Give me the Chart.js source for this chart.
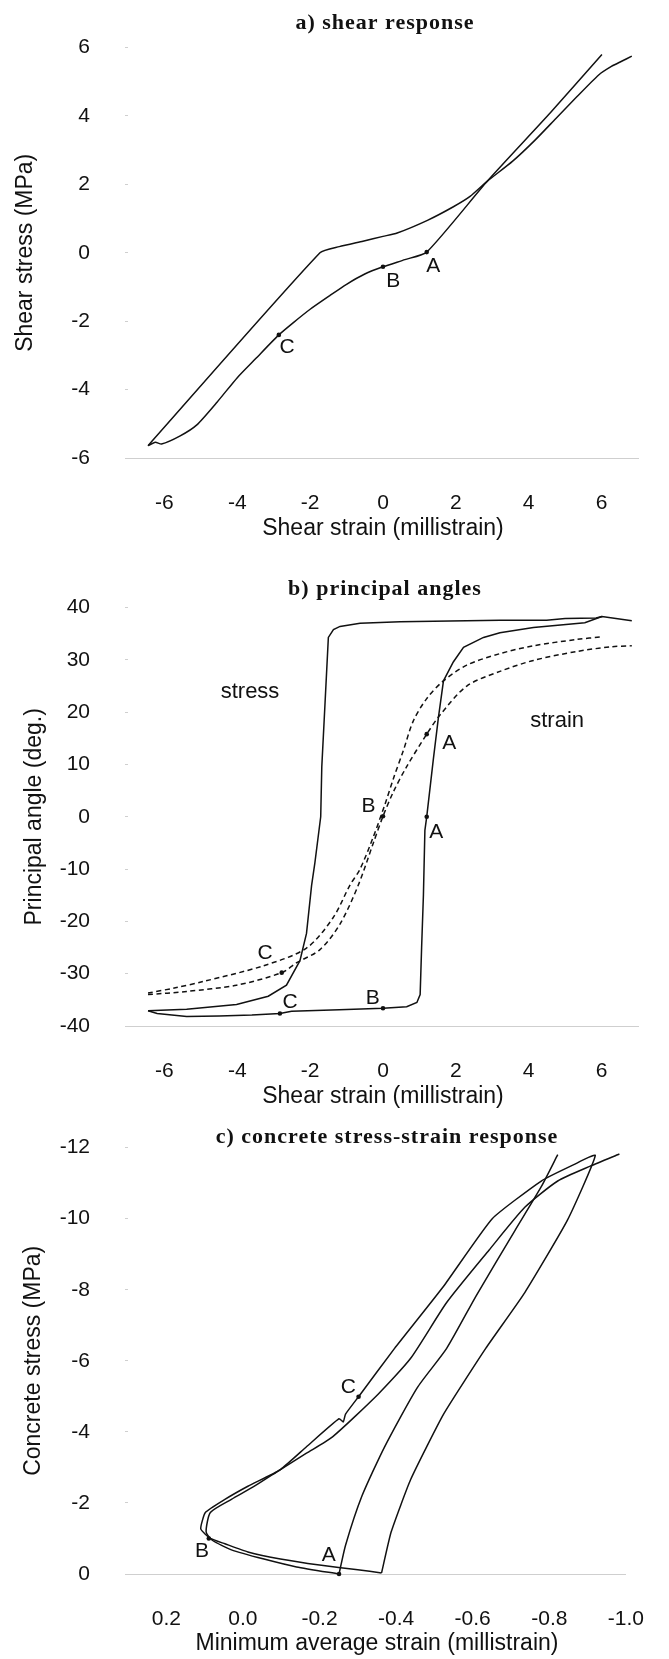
<!DOCTYPE html>
<html>
<head>
<meta charset="utf-8">
<script src="https://cdn.jsdelivr.net/npm/chart.js@4.4.1/dist/chart.umd.min.js"></script>
<style>
  html, body { margin: 0; padding: 0; background: #fff; }
  body { width: 669px; height: 1659px; position: relative; overflow: hidden; }
  canvas { position: absolute; left: 0; }
</style>
</head>
<body>
<canvas id="chartA" width="669" height="560" style="top:0px"></canvas>
<canvas id="chartB" width="669" height="560" style="top:560px"></canvas>
<canvas id="chartC" width="669" height="559" style="top:1100px"></canvas>
<script>
// ---- a) shear response ----
const shearTicks = [-6, -4, -2, 0, 2, 4, 6];
const stressTicksA = [-6, -4, -2, 0, 2, 4, 6];
// unloading line from earlier peak, through A, B, C to the negative peak
const aDownStrain = [6.01, 4.6, 2.86, 1.2, 0.6, 0, -0.5, -1.0, -1.46, -2.0, -2.46, -2.86, -3.5, -4.0, -4.55, -5.11, -5.58, -6.08, -6.25, -6.45];
const aDownStress = [5.80, 4.1, 2.09, 0.02, -0.2, -0.41, -0.62, -0.92, -1.25, -1.65, -2.04, -2.40, -3.1, -3.65, -4.36, -5.03, -5.36, -5.59, -5.54, -5.64];
// straight unloading then reloading to the positive peak
const aUpStrain = [-6.45, -1.73, -1.2, -0.55, 0, 0.39, 1.22, 1.92, 2.39, 2.86, 3.56, 4.16, 4.74, 5.32, 5.92, 6.27, 6.55, 6.83];
const aUpStress = [-5.64, 0.0, 0.18, 0.34, 0.48, 0.58, 0.95, 1.34, 1.65, 2.09, 2.68, 3.28, 3.92, 4.56, 5.2, 5.45, 5.6, 5.75];
const aDotStrain = [1.2, 0, -2.86];
const aDotStress = [0.02, -0.41, -2.40];
const aLabelText = ["A", "B", "C"];
const aLabelX = [1.38, 0.28, -2.63];
const aLabelY = [-0.4, -0.83, -2.77];

// ---- b) principal angles ----
const angleTicks = [-40, -30, -20, -10, 0, 10, 20, 30, 40];
const bStressStrain1 = [6.01, 5.54, 4.13, 3.21, 2.76, 2.21, 1.93, 1.66, 1.52, 1.38, 1.2, 1.15, 1.11, 1.06, 1.02, 0.93, 0.65, 0, -1.2, -2.51, -2.83, -3.6, -4.5, -5.39, -6.2, -6.45];
const bStressAngle1 = [38.3, 37.1, 36.2, 35.2, 34.3, 32.4, 29.6, 26.0, 18.9, 10.9, 0, -2.6, -14.9, -25, -34, -35.5, -36.3, -36.6, -36.9, -37.2, -37.6, -37.9, -38.1, -38.2, -37.6, -37.1];
const bStressStrain2 = [-6.45, -5.39, -4.02, -3.15, -2.65, -2.28, -2.1, -1.96, -1.87, -1.71, -1.68, -1.59, -1.5, -1.36, -1.18, -0.63, 0.47, 3.21, 4.49, 5.0, 5.85, 6.01, 6.83];
const bStressAngle2 = [-37.1, -36.8, -35.9, -34.3, -32.2, -27.5, -22.3, -13.1, -8.8, 0, 9.6, 21.9, 34.3, 35.8, 36.4, 37.0, 37.3, 37.6, 37.6, 37.9, 38.0, 38.3, 37.5];
const bStrainStrain1 = [-6.45, -5.7, -4.94, -3.29, -2.1, -1.37, -0.91, -0.63, -0.27, 0.05, 0.28, 0.56, 0.83, 1.2, 1.66, 2.3, 3.21, 4.13, 5.31, 6.01];
const bStrainAngle1 = [-33.7, -32.7, -31.5, -28.5, -25.1, -19.3, -13.1, -10, -3.9, 2.3, 7.2, 12.7, 18.3, 22.6, 26.0, 29.0, 31.2, 32.7, 33.9, 34.4];
const bStrainStrain2 = [-6.45, -5.39, -4.02, -2.78, -2.37, -1.73, -1.18, -0.68, -0.27, 0, 0.28, 0.65, 1.2, 1.57, 2.3, 3.21, 4.13, 5.31, 6.25, 6.83];
const bStrainAngle2 = [-34.0, -33.4, -32.2, -29.8, -27.9, -25.4, -20.5, -13.1, -5.1, 0.1, 4.7, 9.6, 15.8, 19.5, 25.0, 27.8, 29.9, 31.6, 32.5, 32.7];
const bDotStrain = [1.2, 1.2, 0, 0, -2.83, -2.78];
const bDotAngle = [0, 15.8, 0.1, -36.6, -37.6, -29.8];
const bLabelText = ["stress", "strain", "A", "A", "B", "B", "C", "C"];
const bLabelX = [-3.65, 4.78, 1.82, 1.46, -0.4, -0.28, -3.24, -2.55];
const bLabelY = [23.8, 18.4, 14, -2.95, 2.0, -34.6, -26, -35.4];

// ---- c) concrete stress-strain response ----
const minStrainTicks = [0.2, 0.0, -0.2, -0.4, -0.6, -0.8, -1.0];
const concStressTicks = [-12, -10, -8, -6, -4, -2, 0];
const cLoopStrain = [-0.362, -0.3, -0.2, -0.098, -0.013, 0.047, 0.085, 0.11, 0.098, 0.047, -0.013, -0.098, -0.166, -0.251, -0.262, -0.268, -0.302, -0.396, -0.524, -0.651, -0.779, -0.864, -0.92, -0.847, -0.736, -0.634, -0.524, -0.438, -0.387, -0.362];
const cLoopStress = [-0.03, -0.12, -0.25, -0.42, -0.62, -0.85, -1.0, -1.27, -1.73, -2.1, -2.47, -2.94, -3.58, -4.37, -4.28, -4.5, -4.99, -6.35, -8.1, -10.0, -11.06, -11.52, -11.78, -9.95, -7.92, -6.35, -4.5, -2.66, -1.18, -0.03];
const cEnvStrain = [-0.983, -0.907, -0.822, -0.736, -0.643, -0.532, -0.438, -0.353, -0.234, -0.166, -0.098, -0.03, 0.03, 0.085, 0.096, 0.08, 0.03, -0.055, -0.14, -0.251];
const cEnvStress = [-11.82, -11.48, -11.06, -10.32, -9.12, -7.64, -6.07, -5.06, -3.86, -3.4, -2.94, -2.47, -2.1, -1.73, -1.18, -0.95, -0.68, -0.42, -0.2, 0.0];
const cReloadStrain = [-0.251, -0.268, -0.311, -0.37, -0.455, -0.532, -0.609, -0.711, -0.779, -0.822];
const cReloadStress = [0, -0.81, -2.2, -3.58, -5.24, -6.35, -7.83, -9.68, -10.9, -11.8];
const cDotStrain = [-0.251, 0.089, -0.302];
const cDotStress = [0, -1.0, -4.99];
const cLabelText = ["A", "B", "C"];
const cLabelX = [-0.224, 0.107, -0.275];
const cLabelY = [-0.52, -0.63, -5.26];

const FONT = '"Liberation Sans", Arial, sans-serif';
const INK = "#111";

function pts(xs, ys) {
  return xs.map((v, i) => ({ x: v, y: ys[i] }));
}

// draws panel title and the point labels
const notes = {
  id: "notes",
  afterDatasetsDraw(chart, args, opts) {
    const ctx = chart.ctx;
    const xs = chart.scales.x, ys = chart.scales.y;
    ctx.save();
    ctx.fillStyle = INK;
    ctx.textAlign = "center";
    ctx.textBaseline = "middle";
    ctx.font = 'bold 22px "Liberation Serif", "Times New Roman", serif';
    ctx.letterSpacing = "1px";
    ctx.fillText(opts.title, opts.titleX, opts.titleY);
    ctx.letterSpacing = "0px";
    for (let i = 0; i < opts.text.length; i++) {
      ctx.font = (opts.text[i].length > 1 ? "22px " : "21px ") + FONT;
      ctx.fillText(opts.text[i], xs.getPixelForValue(opts.lx[i]), ys.getPixelForValue(opts.ly[i]));
    }
    ctx.restore();
  }
};

function makeChart(id, c) {
  const el = document.getElementById(id);
  const H = el.height;
  const sets = c.lines.map(l => ({
    data: pts(l.x, l.y),
    showLine: true,
    pointRadius: 0,
    borderColor: INK,
    borderWidth: 1.5,
    borderDash: l.dash || [],
    tension: l.tension || 0,
    clip: false
  }));
  sets.push({
    data: pts(c.dotX, c.dotY),
    pointRadius: 2.3,
    pointBackgroundColor: INK,
    pointBorderWidth: 0,
    showLine: false,
    clip: false
  });
  return new Chart(el, {
    type: "scatter",
    data: { datasets: sets },
    options: {
      responsive: false,
      animation: false,
      events: [],
      layout: { padding: { top: c.top, right: 31, left: 0, bottom: 0 } },
      plugins: {
        legend: { display: false },
        tooltip: { enabled: false },
        notes: { title: c.title, titleX: c.titleX, titleY: c.titleY, text: c.labText, lx: c.labX, ly: c.labY }
      },
      scales: {
        x: {
          type: "linear",
          min: c.xMin, max: c.xMax, reverse: !!c.xReverse,
          afterFit: s => { s.height = H - c.bottom; },
          afterBuildTicks: s => { s.ticks = c.xTicks.map(v => ({ value: v })); },
          grid: { display: false },
          border: { display: true, color: "#cfcfcf", dash: [1.5, 14], width: 1 },
          ticks: { color: INK, padding: 25, font: { family: FONT, size: 21 }, callback: c.xFmt || (v => v) },
          title: { display: true, text: c.xTitle, color: INK, font: { family: FONT, size: 23 }, padding: { top: 0, bottom: c.xTitlePad } }
        },
        y: {
          type: "linear",
          min: c.yMin, max: c.yMax, reverse: !!c.yReverse,
          afterFit: s => { s.width = 128; },
          afterBuildTicks: s => { s.ticks = c.yTicks.map(v => ({ value: v })); },
          grid: { display: true, drawOnChartArea: false, drawTicks: true, tickLength: 3, color: "#cfcfcf" },
          border: { display: false },
          ticks: { color: INK, padding: 35, font: { family: FONT, size: 21 } },
          title: { display: true, text: c.yTitle, color: INK, font: { family: FONT, size: 23 }, padding: { top: c.yTitlePad, bottom: 0 } }
        }
      }
    },
    plugins: [notes]
  });
}

makeChart("chartA", {
  top: 25, bottom: 458,
  xMin: -7, xMax: 7, yMin: -6, yMax: 6,
  xTicks: shearTicks, yTicks: stressTicksA,
  xTitle: "Shear strain (millistrain)", yTitle: "Shear stress (MPa)",
  xTitlePad: 18, yTitlePad: 12,
  title: "a) shear response", titleX: 385, titleY: 23,
  lines: [
    { x: aDownStrain, y: aDownStress, tension: 0.2 },
    { x: aUpStrain, y: aUpStress, tension: 0.2 }
  ],
  dotX: aDotStrain, dotY: aDotStress,
  labText: aLabelText, labX: aLabelX, labY: aLabelY
});

makeChart("chartB", {
  top: 32, bottom: 466,
  xMin: -7, xMax: 7, yMin: -40, yMax: 40,
  xTicks: shearTicks, yTicks: angleTicks,
  xTitle: "Shear strain (millistrain)", yTitle: "Principal angle (deg.)",
  xTitlePad: 10, yTitlePad: 21,
  title: "b) principal angles", titleX: 385, titleY: 29,
  lines: [
    { x: bStressStrain1, y: bStressAngle1 },
    { x: bStressStrain2, y: bStressAngle2 },
    { x: bStrainStrain1, y: bStrainAngle1, dash: [5, 3.5], tension: 0.3 },
    { x: bStrainStrain2, y: bStrainAngle2, dash: [5, 3.5], tension: 0.3 }
  ],
  dotX: bDotStrain, dotY: bDotAngle,
  labText: bLabelText, labX: bLabelX, labY: bLabelY
});

makeChart("chartC", {
  top: 41, bottom: 474,
  xMin: -1.0, xMax: 0.3, xReverse: true, yMin: -12, yMax: 0, yReverse: true,
  xTicks: minStrainTicks, yTicks: concStressTicks,
  xFmt: v => v.toFixed(1),
  xTitle: "Minimum average strain (millistrain)", yTitle: "Concrete stress (MPa)",
  xTitlePad: 2, yTitlePad: 20,
  title: "c) concrete stress-strain response", titleX: 387, titleY: 37,
  lines: [
    { x: cLoopStrain, y: cLoopStress, tension: 0.15 },
    { x: cEnvStrain, y: cEnvStress, tension: 0.2 },
    { x: cReloadStrain, y: cReloadStress, tension: 0.2 }
  ],
  dotX: cDotStrain, dotY: cDotStress,
  labText: cLabelText, labX: cLabelX, labY: cLabelY
});
</script>
</body>
</html>
